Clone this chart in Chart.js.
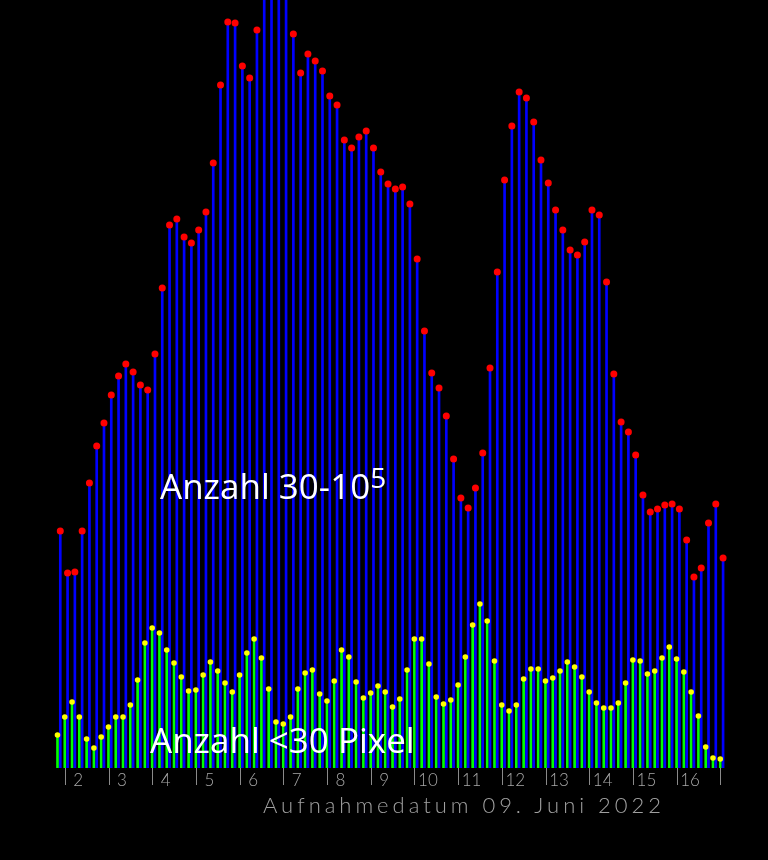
<!DOCTYPE html>
<html>
<head>
<meta charset="utf-8">
<script src="https://cdn.jsdelivr.net/npm/chart.js@4.4.0/dist/chart.umd.min.js"></script>
<style>
  body { margin: 0; background: #000; }
  #wrap { position: relative; width: 768px; height: 860px; }
  .label { position: absolute; color: #fff; font-family: 'Open Sans', sans-serif; font-size: 35px; line-height: 1; white-space: nowrap; }
  .label sup { font-size: 28px; line-height: 1; vertical-align: baseline; position: relative; top: -11px; }
  #xtitle { position: absolute; left: 263px; top: 791px; color: #a0a0a0; font-family: Lato, sans-serif; font-weight: 300; font-size: 22px; white-space: nowrap; }
</style>
</head>
<body>
<div id="wrap">
  <canvas id="chart"></canvas>
  <div class="label" style="left:160px; top:468px;">Anzahl 30-10<sup>5</sup></div>
  <div class="label" style="left:150px; top:722px;">Anzahl &lt;30 Pixel</div>
  <div id="xtitle">Aufnahmedatum 09. Juni 2022</div>
</div>
<script>
// 10-minute samples, first one at about 01:51
const firstSampleHour = 1 + 51.2 / 60;
const sampleStepHour = 10 / 60;
const tickHours = [2, 3, 4, 5, 6, 7, 8, 9, 10, 11, 12, 13, 14, 15, 16, 17];

// Anzahl 30-10^5 (blue stems, red dots); 29-32 run off the top
const countLarge = [
  237, 195, 196, 237, 285, 322, 345, 373, 392, 404, 396, 383, 378, 414, 480, 543,
  549, 531, 525, 538, 556, 605, 683, 746, 745, 702, 690, 738, 790, 820, 830, 800,
  734, 695, 714, 707, 697, 672, 663, 628, 620, 631, 637, 620, 596, 584, 579, 581,
  564, 509, 437, 395, 380, 352, 309, 270, 260, 280, 315, 400, 496, 588, 642, 676,
  670, 646, 608, 585, 558, 538, 518, 513, 526, 558, 553, 486, 394, 346, 336, 313,
  273, 256, 259, 263, 264, 259, 228, 191, 200, 245, 264, 210
];

// Anzahl <30 Pixel (green stems, yellow dots)
const countSmall = [
  33, 51, 66, 51, 29, 20, 31, 41, 51, 51, 63, 88, 125, 140, 135, 118,
  105, 91, 77, 78, 93, 106, 97, 85, 76, 93, 115, 129, 110, 79, 46, 44,
  51, 79, 95, 98, 74, 67, 87, 118, 111, 86, 70, 75, 82, 76, 61, 69,
  98, 129, 129, 104, 71, 64, 68, 83, 111, 143, 164, 147, 107, 63, 57, 63,
  89, 99, 99, 87, 90, 97, 106, 101, 91, 76, 65, 60, 60, 65, 85, 108,
  107, 94, 97, 110, 121, 109, 96, 76, 52, 21, 10, 9
];

const sampleHours = countLarge.map((_, i) => firstSampleHour + i * sampleStepHour);
const largePoints = countLarge.map((v, i) => ({ x: sampleHours[i] + 0.032, y: v }));
const smallPoints = countSmall.map((v, i) => ({ x: sampleHours[i] - 0.032, y: v }));

new Chart(document.getElementById('chart'), {
  type: 'bar',
  data: {
    datasets: [
      { type: 'scatter', data: largePoints, order: 0, pointRadius: 3.5, pointBackgroundColor: '#ff0000', pointBorderWidth: 0 },
      { type: 'scatter', data: smallPoints, order: 0, pointRadius: 2.8, pointBackgroundColor: '#ffff00', pointBorderWidth: 0 },
      { data: largePoints, order: 1, backgroundColor: '#0000ff', barThickness: 2, grouped: false },
      { data: smallPoints, order: 1, backgroundColor: '#00ff00', barThickness: 2, grouped: false }
    ]
  },
  options: {
    responsive: true,
    maintainAspectRatio: false,
    animation: false,
    layout: { padding: 0, autoPadding: false },
    plugins: { legend: { display: false }, tooltip: { enabled: false } },
    scales: {
      x: {
        type: 'linear',
        offset: false,
        min: 0.5057,
        max: 18.08,
        afterBuildTicks: (axis) => { axis.ticks = tickHours.map((h) => ({ value: h })); },
        afterFit: (axis) => { axis.height = 92; },
        border: { display: false },
        grid: { offset: false, drawOnChartArea: false, drawTicks: true, tickLength: 17, tickColor: '#8a8a8a', tickWidth: 1 },
        ticks: {
          padding: -15,
          labelOffset: 13,
          color: '#a8a8a8',
          font: { family: 'Lato', size: 17, weight: 300 },
          maxRotation: 0,
          autoSkip: false,
          callback: (v) => (v === 17 ? '' : String(v))
        }
      },
      y: { display: false, min: 0, max: 768 }
    }
  }
});

// stretch the axis title to the width it has in the original
const title = document.getElementById('xtitle');
const w = title.getBoundingClientRect().width;
title.style.letterSpacing = ((402 - w) / title.textContent.length) + 'px';
</script>
</body>
</html>
